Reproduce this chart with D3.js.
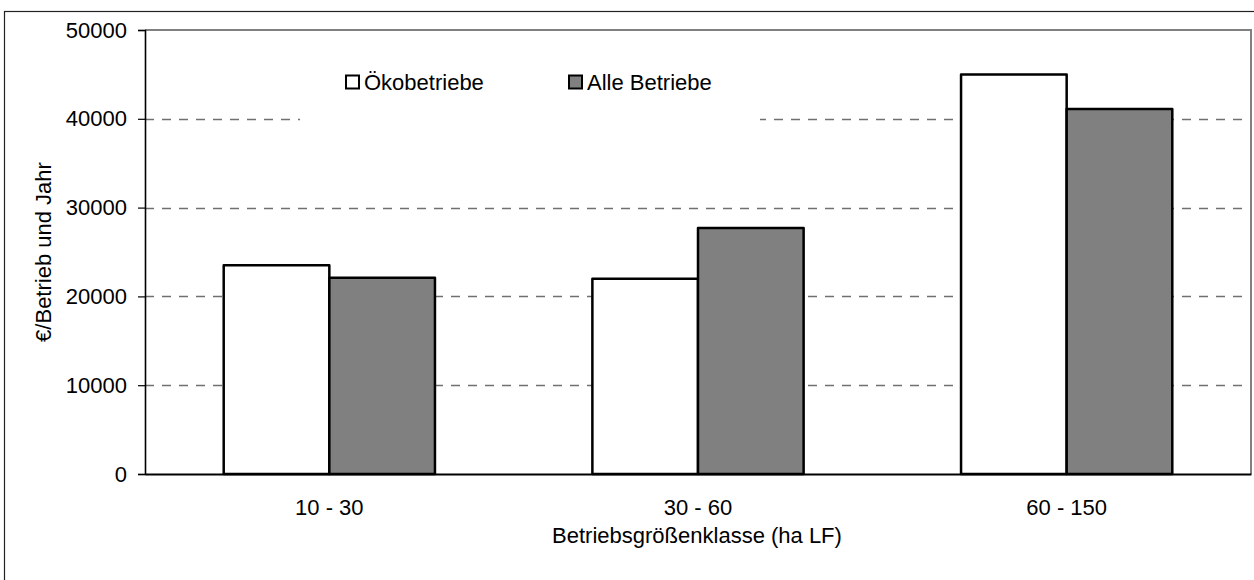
<!DOCTYPE html>
<html>
<head>
<meta charset="utf-8">
<script src="https://cdn.jsdelivr.net/npm/d3@7"></script>
<style>
  html, body { margin: 0; padding: 0; background: #fff; }
  svg { display: block; font-family: "Liberation Sans", Arial, sans-serif; }
</style>
</head>
<body>
<svg id="chart" width="1254" height="580"></svg>
<script>
const categories = ["10 - 30", "30 - 60", "60 - 150"];
const seriesNames = ["Ökobetriebe", "Alle Betriebe"];
const oekoValues = [23500, 22000, 45000];
const alleValues = [22100, 27700, 41100];
const yTicks = [0, 10000, 20000, 30000, 40000, 50000];
const yTitle = "€/Betrieb und Jahr";
const xTitle = "Betriebsgrößenklasse (ha LF)";

const seriesFill = ["#ffffff", "#808080"];
const seriesValues = [oekoValues, alleValues];

const svg = d3.select("#chart");
const fontSize = 22;

const plot = { left: 145, right: 1251, top: 30, bottom: 474 };

// outer frame (cut off on right/bottom like the reference)
svg.append("rect")
  .attr("x", 4.5).attr("y", 11.5)
  .attr("width", 1300).attr("height", 620)
  .attr("fill", "none").attr("stroke", "#222").attr("stroke-width", 1.2);

const x = d3.scaleBand().domain(categories)
  .range([plot.left, plot.right]).paddingInner(0.427).paddingOuter(0.2135);
const xs = d3.scaleBand().domain(seriesNames).range([0, x.bandwidth()]);
const y = d3.scaleLinear().domain([0, 50000]).range([plot.bottom, plot.top]);

// gridlines (dashed) for inner ticks
svg.append("g").selectAll("line")
  .data(yTicks.filter(t => t > 0 && t < 50000))
  .join("line")
  .attr("x1", plot.left).attr("x2", plot.right - 6)
  .attr("y1", d => Math.round(y(d)) + 0.5).attr("y2", d => Math.round(y(d)) + 0.5)
  .attr("stroke", "#707070").attr("stroke-width", 1.3)
  .attr("stroke-dasharray", "9,8");

// top and right border of plot area (gray)
svg.append("path")
  .attr("d", `M${plot.left},${plot.top}H${plot.right}V${plot.bottom}`)
  .attr("fill", "none").attr("stroke", "#808080").attr("stroke-width", 2);

// legend background covering gridline
const legend = svg.append("g");
legend.append("rect")
  .attr("x", 300).attr("y", 55).attr("width", 460).attr("height", 70)
  .attr("fill", "#fff");
const legendX = [345, 568];
seriesNames.forEach((name, i) => {
  legend.append("rect")
    .attr("x", legendX[i] + 1).attr("y", 75.5).attr("width", 13).attr("height", 13)
    .attr("fill", seriesFill[i]).attr("stroke", "#000").attr("stroke-width", 2);
  legend.append("text")
    .attr("x", legendX[i] + 19).attr("y", 90)
    .attr("font-size", fontSize).attr("fill", "#000")
    .text(name);
});

// bars
const groups = svg.append("g").selectAll("g")
  .data(categories)
  .join("g")
  .attr("transform", d => `translate(${x(d)},0)`);
groups.selectAll("rect")
  .data((d, ci) => seriesNames.map((s, si) => ({ s, si, v: seriesValues[si][ci] })))
  .join("rect")
  .attr("x", d => xs(d.s))
  .attr("width", xs.bandwidth())
  .attr("y", d => y(d.v))
  .attr("height", d => y(0) - y(d.v))
  .attr("fill", d => seriesFill[d.si])
  .attr("stroke", "#000").attr("stroke-width", 2.5)
  .attr("stroke-linejoin", "round");

// y axis
const yAxis = d3.axisLeft(y).tickValues(yTicks).tickSize(7).tickPadding(11)
  .tickFormat(d3.format("d"));
const yg = svg.append("g").attr("transform", `translate(${plot.left},0)`).call(yAxis);
yg.select(".domain").attr("stroke", "#000").attr("stroke-width", 1.6);
yg.selectAll(".tick line").attr("stroke", "#000").attr("stroke-width", 1.2);
yg.selectAll(".tick text").attr("font-size", fontSize).attr("fill", "#000")
  .attr("font-family", "Liberation Sans, Arial, sans-serif");

// x axis
const xAxis = d3.axisBottom(x).tickSize(0).tickPadding(0);
const xg = svg.append("g").attr("transform", `translate(0,${plot.bottom})`).call(xAxis);
xg.select(".domain").attr("stroke", "#000").attr("stroke-width", 2);
xg.selectAll(".tick text").attr("font-size", fontSize).attr("fill", "#000")
  .attr("font-family", "Liberation Sans, Arial, sans-serif")
  .attr("dy", null).attr("y", 41);

// axis titles
svg.append("text")
  .attr("x", (plot.left + plot.right) / 2 - 1).attr("y", 542.5)
  .attr("text-anchor", "middle").attr("font-size", fontSize).attr("fill", "#000")
  .text(xTitle);
svg.append("text")
  .attr("transform", `translate(51,${(plot.top + plot.bottom) / 2}) rotate(-90)`)
  .attr("text-anchor", "middle").attr("font-size", fontSize).attr("fill", "#000")
  .text(yTitle);
</script>
</body>
</html>
